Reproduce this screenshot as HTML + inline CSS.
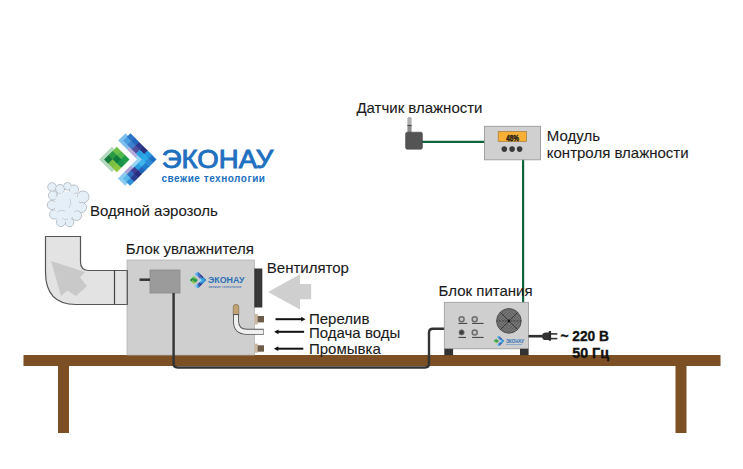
<!DOCTYPE html>
<html><head><meta charset="utf-8">
<style>
html,body{margin:0;padding:0;background:#fff;}
body{width:743px;height:469px;overflow:hidden;position:relative;}
svg{position:absolute;left:0;top:0;}
text{font-family:"Liberation Sans",sans-serif;}
</style></head>
<body>
<svg width="743" height="469" viewBox="0 0 743 469">
  <defs>
    <g id="mark">
<g transform="rotate(45)">
<rect x="182.9" y="24.7" width="17.95" height="17.95" fill="#b5d9bd"/>
<rect x="183" y="5.5" width="12.55" height="10.35" fill="#7fbfee"/>
<rect x="195.2" y="5.5" width="12.55" height="10.35" fill="#b3acdc"/>
<rect x="207.4" y="5.5" width="12.45" height="10.35" fill="#95d3f3"/>
<rect x="209.5" y="15.5" width="10.35" height="9.35" fill="#9ad6f4"/>
<rect x="209.5" y="24.5" width="10.35" height="9.35" fill="#aaa4d6"/>
<rect x="209.5" y="33.5" width="10.35" height="9.35" fill="#8ccaf0"/>
<rect x="186.40" y="21.20" width="6.25" height="6.25" fill="#6fc04b"/>
<rect x="192.27" y="21.20" width="6.25" height="6.25" fill="#4fb64a"/>
<rect x="198.13" y="21.20" width="6.25" height="6.25" fill="#1f9c4a"/>
<rect x="186.40" y="27.07" width="6.25" height="6.25" fill="#2a9a45"/>
<rect x="192.27" y="27.07" width="6.25" height="6.25" fill="#0f7a3d"/>
<rect x="198.13" y="27.07" width="6.25" height="6.25" fill="#16924a"/>
<rect x="186.40" y="32.93" width="6.25" height="6.25" fill="#137a3c"/>
<rect x="192.27" y="32.93" width="6.25" height="6.25" fill="#7cbf43"/>
<rect x="198.13" y="32.93" width="6.25" height="6.25" fill="#8cc63f"/>
<rect x="186.50" y="2.00" width="6.48" height="5.40" fill="#2b74c6"/>
<rect x="192.58" y="2.00" width="6.48" height="5.40" fill="#2166bb"/>
<rect x="198.67" y="2.00" width="6.48" height="5.40" fill="#2d3a8e"/>
<rect x="204.75" y="2.00" width="6.48" height="5.40" fill="#2a2d7c"/>
<rect x="210.83" y="2.00" width="6.48" height="5.40" fill="#2196dc"/>
<rect x="216.92" y="2.00" width="6.48" height="5.40" fill="#1f73c4"/>
<rect x="186.50" y="7.00" width="6.48" height="5.40" fill="#4a9ee0"/>
<rect x="192.58" y="7.00" width="6.48" height="5.40" fill="#3b7fcf"/>
<rect x="198.67" y="7.00" width="6.48" height="5.40" fill="#4f4fa0"/>
<rect x="204.75" y="7.00" width="6.48" height="5.40" fill="#2a9fdf"/>
<rect x="210.83" y="7.00" width="6.48" height="5.40" fill="#29a9e6"/>
<rect x="216.92" y="7.00" width="6.48" height="5.40" fill="#2a8ad6"/>
<rect x="213.00" y="12.00" width="5.40" height="5.80" fill="#3fb4ea"/>
<rect x="218.00" y="12.00" width="5.40" height="5.80" fill="#1e7fcf"/>
<rect x="213.00" y="17.40" width="5.40" height="5.80" fill="#2a9fe0"/>
<rect x="218.00" y="17.40" width="5.40" height="5.80" fill="#2166bb"/>
<rect x="213.00" y="22.80" width="5.40" height="5.80" fill="#3d3f95"/>
<rect x="218.00" y="22.80" width="5.40" height="5.80" fill="#2a2d7c"/>
<rect x="213.00" y="28.20" width="5.40" height="5.80" fill="#2f6fc0"/>
<rect x="218.00" y="28.20" width="5.40" height="5.80" fill="#2b3f92"/>
<rect x="213.00" y="33.60" width="5.40" height="5.80" fill="#5ab8ec"/>
<rect x="218.00" y="33.60" width="5.40" height="5.80" fill="#2f8fd8"/>
</g></g>
  </defs>

  <!-- table -->
  <rect x="23.5" y="355" width="697" height="11" fill="#7c4f24"/>
  <rect x="58" y="366" width="11" height="67" fill="#7c4f24"/>
  <rect x="675.5" y="366" width="11" height="67" fill="#7c4f24"/>

  <!-- duct -->
  <path d="M45.5 236.5 H80.5 V262 Q80.5 270.5 89 270.5 H127.5 V304.5 H76 Q45.5 304.5 45.5 272 Z" fill="#e3e3e3" stroke="#555" stroke-width="1.2"/>
  <line x1="114.5" y1="270.5" x2="114.5" y2="304.5" stroke="#444" stroke-width="1.2"/>
  <polygon points="51,261 85,272 80,277.5 87,286 76,296 67.5,290.5 61,296" fill="#c9c9c9"/>

  <!-- humidifier box -->
  <rect x="127" y="260" width="127.5" height="95" fill="#cfcfd0" stroke="#b5b5b5" stroke-width="0.8"/>
  <line x1="127.3" y1="270" x2="127.3" y2="305" stroke="#444" stroke-width="1"/>
  <rect x="150" y="270" width="30" height="23" fill="#9b9b9b" stroke="#8a8a8a" stroke-width="0.8"/>
  <line x1="139.5" y1="279.7" x2="150" y2="279.7" stroke="#333" stroke-width="2.5"/>
  <!-- fan bar -->
  <rect x="254.3" y="268.5" width="8" height="39" fill="#343434"/>
  <line x1="257.8" y1="269" x2="257.8" y2="307" stroke="#4a4a4a" stroke-width="0.6"/>
  <line x1="260.2" y1="269" x2="260.2" y2="307" stroke="#4a4a4a" stroke-width="0.6"/>
  <!-- big arrow -->
  <polygon points="268,292 300,274.3 300,284 311.2,284 311.2,299.2 300,299.2 300,309.5" fill="#cfcfcf"/>
  <!-- pipe -->
  <path d="M236 314 V321 Q236 331.8 247 331.8 H263.8" fill="none" stroke="#555" stroke-width="6"/>
  <path d="M236 314 V321 Q236 331.8 247 331.8 H263.3" fill="none" stroke="#f0f0f0" stroke-width="4.2"/>
  <path d="M233.2 314.5 V307.2 Q233.2 304.3 236 304.3 Q238.8 304.3 238.8 307.2 V314.5 Z" fill="#c2a274" stroke="#7a6650" stroke-width="0.6"/>
  <line x1="233" y1="314.6" x2="239" y2="314.6" stroke="#555" stroke-width="1"/>
  <!-- fittings -->
  <rect x="254.4" y="314" width="3.4" height="10.5" fill="#cbb9a4"/>
  <rect x="257.6" y="316" width="6.4" height="6.4" fill="#6e5c4a"/>
  <rect x="254.4" y="343.7" width="3.4" height="9" fill="#cbb9a4"/>
  <rect x="257.6" y="345.3" width="6.4" height="6.4" fill="#6e5c4a"/>
  <!-- small arrows -->
  <g stroke="#111" stroke-width="2">
    <line x1="275.5" y1="319.2" x2="302" y2="319.2"/>
    <line x1="277" y1="331.8" x2="304.1" y2="331.8"/>
    <line x1="277" y1="348.7" x2="303.3" y2="348.7"/>
  </g>
  <g fill="#111">
    <polygon points="305.6,319.2 301.2,316.8 301.2,321.6"/>
    <polygon points="274.1,331.8 278.5,329.4 278.5,334.2"/>
    <polygon points="273.9,348.7 278.3,346.3 278.3,351.1"/>
  </g>

  <!-- cable humidifier -> psu -->
  <path d="M173.6 293 V363.5 Q173.6 367.5 177.6 367.5 H425 Q429 367.5 429 363.5 V332.8 Q429 328.8 433 328.8 H444.5" fill="none" stroke="#333" stroke-width="2.4"/>

  <!-- sensor -->
  <line x1="422" y1="141.9" x2="485" y2="141.9" stroke="#11633b" stroke-width="2.2"/>
  <line x1="523.1" y1="159" x2="523.1" y2="303" stroke="#11633b" stroke-width="2.2"/>
  <path d="M407.4 133 V125.5 H411.6 V133 Z" fill="#8e8e8e"/>
  <path d="M407.4 125.5 V118.4 Q407.6 116.9 408.9 116.9 H410.1 Q411.4 116.9 411.6 118.4 V125.5 Z" fill="#b0b0b0"/>
  <rect x="407.3" y="124.9" width="4.4" height="1.1" fill="#4a4a4a"/>
  <rect x="405.6" y="132.2" width="16.8" height="17" rx="1.6" fill="#545454" stroke="#444" stroke-width="0.6"/>

  <!-- module -->
  <rect x="484.5" y="126.3" width="56" height="33.5" fill="#d0d0d0" stroke="#9a9a9a" stroke-width="0.9"/>
  <rect x="498.2" y="131.4" width="28.2" height="10.2" fill="#f7b035" stroke="#a07a40" stroke-width="0.7"/>
  <text x="506.3" y="140.8" font-size="9.5" font-weight="bold" fill="#2a2418" stroke="#2a2418" stroke-width="0.5" textLength="12.7" lengthAdjust="spacingAndGlyphs">48%</text>
  <circle cx="504.3" cy="149.1" r="2.8" fill="#3a3a3a"/>
  <circle cx="512.1" cy="149.1" r="2.8" fill="#3a3a3a"/>
  <circle cx="519.6" cy="149.1" r="2.8" fill="#3a3a3a"/>

  <!-- PSU -->
  <rect x="444.3" y="302.3" width="84.3" height="46.5" fill="#cfcfd0" stroke="#999" stroke-width="0.8"/>
  <rect x="444.3" y="348.8" width="8.8" height="6.4" fill="#333"/>
  <rect x="520" y="348.8" width="8.6" height="6.4" fill="#333"/>
  <clipPath id="fanclip"><circle cx="508.9" cy="320.9" r="12.3"/></clipPath>
  <circle cx="508.9" cy="320.9" r="12.3" fill="#7a7a7a" stroke="#4a4a4a" stroke-width="0.9"/>
  <g clip-path="url(#fanclip)" fill="none" stroke="#505050" stroke-width="0.9">
    <path d="M508.9 318.4 L511.4 320.9 L508.9 323.4 L506.4 320.9 Z"/>
    <path d="M508.9 315.4 L514.4 320.9 L508.9 326.4 L503.4 320.9 Z"/>
    <path d="M508.9 312.4 L517.4 320.9 L508.9 329.4 L500.4 320.9 Z"/>
    <path d="M508.9 309.4 L520.4 320.9 L508.9 332.4 L497.4 320.9 Z"/>
    <path d="M508.9 306.4 L523.4 320.9 L508.9 335.4 L494.4 320.9 Z"/>
  </g>
  <g clip-path="url(#fanclip)" stroke="#2e2e2e" stroke-width="0.8">
    <path d="M496 308 L522 334 M522 308 L496 334"/>
    <path d="M496 320.9 H522" stroke-dasharray="1.5 1.5" stroke-width="0.8"/>
  </g>
  <circle cx="508.9" cy="320.9" r="1.3" fill="#111"/>
  <circle cx="461.6" cy="319.3" r="2.5" fill="#c6c6c6" stroke="#6e6e6e" stroke-width="1.5"/>
  <circle cx="474.7" cy="319.3" r="2.5" fill="#c6c6c6" stroke="#6e6e6e" stroke-width="1.5"/>
  <circle cx="461.6" cy="332.4" r="2.6" fill="#404040" stroke="#7a7a7a" stroke-width="0.8"/>
  <circle cx="474.7" cy="332.4" r="2.5" fill="#c6c6c6" stroke="#6e6e6e" stroke-width="1.5"/>
  <g stroke="#2a2a2a" stroke-width="0.9">
    <line x1="458.4" y1="323.4" x2="467.3" y2="323.4"/>
    <line x1="472.1" y1="323.4" x2="483.6" y2="323.4"/>
    <line x1="458.4" y1="337.4" x2="466" y2="337.4"/>
    <line x1="472.1" y1="337.4" x2="483.6" y2="337.4"/>
  </g>
  <!-- plug -->
  <line x1="528.5" y1="336.2" x2="544" y2="336.2" stroke="#2e2e2e" stroke-width="2.6"/>
  <path d="M549 332.4 H546 Q542 332.4 542 336.2 Q542 340.1 546 340.1 H549 Z" fill="#333"/>
  <rect x="548.7" y="331.1" width="2.4" height="9.6" rx="0.6" fill="#2a2a2a"/>
  <line x1="551" y1="333.9" x2="557.3" y2="333.9" stroke="#333" stroke-width="1.6"/>
  <line x1="551" y1="338.6" x2="557.3" y2="338.6" stroke="#333" stroke-width="1.6"/>

  <!-- texts -->
  <g font-size="15" fill="#1a1a1a" stroke="#1a1a1a" stroke-width="0.1">
    <text x="90" y="215.6">Водяной аэрозоль</text>
    <text x="125.8" y="253.6">Блок увлажнителя</text>
    <text x="266.8" y="272.8">Вентилятор</text>
    <text x="309" y="323.5">Перелив</text>
    <text x="309" y="337.6">Подача воды</text>
    <text x="309" y="354.2">Промывка</text>
    <text x="356.4" y="113">Датчик влажности</text>
    <text x="546.8" y="141.2">Модуль</text>
    <text x="546.8" y="157.7">контроля влажности</text>
    <text x="438.6" y="295.6">Блок питания</text>
  </g>
  <g font-size="13.8" font-weight="bold" fill="#111" stroke="#111" stroke-width="0.35">
    <text x="560.5" y="340.6">~</text>
    <text x="572.3" y="340.6" textLength="36.6" lengthAdjust="spacingAndGlyphs">220 В</text>
    <text x="572.3" y="357.8" textLength="36.6" lengthAdjust="spacingAndGlyphs">50 Гц</text>
  </g>

  <!-- main logo -->
  <use href="#mark"/>
  <text x="161.8" y="168.2" font-size="25" fill="#2070c0" stroke="#2070c0" stroke-width="0.9" textLength="111.5" lengthAdjust="spacingAndGlyphs">ЭКОНАУ</text>
  <text x="161.5" y="181.8" font-size="10" font-weight="bold" fill="#2070c0" textLength="103.5" lengthAdjust="spacing">свежие технологии</text>

  <!-- small logo in humidifier -->
  <use href="#mark" transform="translate(157.67,230.46) scale(0.311)"/>
  <text x="208" y="283.2" font-size="9" font-weight="bold" fill="#2b6fb6" textLength="36.5" lengthAdjust="spacingAndGlyphs">ЭКОНАУ</text>
  <text x="208.4" y="287.8" font-size="3.6" font-weight="bold" fill="#5b7fb2" textLength="33" lengthAdjust="spacingAndGlyphs">свежие технологии</text>

  <!-- small logo on psu -->
  <use href="#mark" transform="translate(473.43,309.62) scale(0.197)"/>
  <text x="506" y="343" font-size="5" font-weight="bold" fill="#2b6fb6" textLength="18" lengthAdjust="spacingAndGlyphs">ЭКОНАУ</text>
  <rect x="506" y="344" width="16" height="1" fill="#8aa6c8"/>

  <!-- cloud -->
  <g fill="#e5eff7" stroke="#b5bdc5" stroke-width="1">
  <circle cx="52" cy="187" r="4.2"/>
  <circle cx="60" cy="189" r="4.5"/>
  <circle cx="67.5" cy="186.3" r="3.8"/>
  <circle cx="74" cy="189.5" r="4.5"/>
  <circle cx="83" cy="197" r="6"/>
  <circle cx="81.5" cy="207.5" r="5"/>
  <circle cx="76.5" cy="215.5" r="5"/>
  <circle cx="69.5" cy="222.5" r="4.2"/>
  <circle cx="61" cy="222" r="4.5"/>
  <circle cx="54" cy="214.5" r="4.5"/>
  <circle cx="51.8" cy="205" r="4.5"/>
  <circle cx="53" cy="195.5" r="4.5"/>
  </g><g fill="#e5eff7">
  <circle cx="52" cy="187" r="3.5"/>
  <circle cx="60" cy="189" r="3.8"/>
  <circle cx="67.5" cy="186.3" r="3.0999999999999996"/>
  <circle cx="74" cy="189.5" r="3.8"/>
  <circle cx="83" cy="197" r="5.3"/>
  <circle cx="81.5" cy="207.5" r="4.3"/>
  <circle cx="76.5" cy="215.5" r="4.3"/>
  <circle cx="69.5" cy="222.5" r="3.5"/>
  <circle cx="61" cy="222" r="3.8"/>
  <circle cx="54" cy="214.5" r="3.8"/>
  <circle cx="51.8" cy="205" r="3.8"/>
  <circle cx="53" cy="195.5" r="3.8"/>
  <circle cx="67" cy="204" r="12.5"/><circle cx="64" cy="213" r="9"/></g>
  <g fill="none" stroke="#c3cad1" stroke-width="0.8"><path d="M57 212 Q61 209 65 211"/><path d="M70 199 Q72 204 69 208"/><path d="M74 212 Q77 209 80 212"/><path d="M56 190 Q58 194 56 197"/><path d="M62 218 Q65 221 68 219"/></g>
</svg>
</body></html>
